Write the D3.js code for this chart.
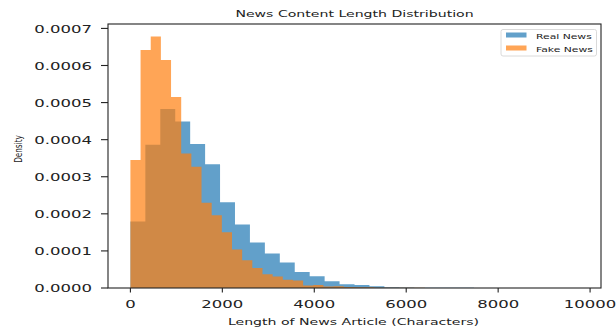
<!DOCTYPE html>
<html>
<head>
<meta charset="utf-8">
<script src="https://cdn.jsdelivr.net/npm/d3@7"></script>
<style>
  body { margin: 0; background: #fff; }
  svg { display: block; font-family: "DejaVu Sans", sans-serif; }
</style>
</head>
<body>
<div class="canvas"></div>
<script>
// histogram densities, 30 equal bins per series
const binCount = 30;
const realMax = 9750;   // right edge of the last real bin (characters)
const fakeMax = 6630;   // right edge of the last fake bin

const realDensity = [
    0.000179, 0.000386, 0.000483, 0.000449, 0.000388, 0.000334, 0.000231, 0.000171,
    0.000123, 0.000093, 0.000069, 0.000043, 0.000032, 0.000018, 0.000010, 0.000008,
    0.000005, 0.000002, 0.0000015, 0.000001, 0.0000008, 0.0000005, 0.0000004, 0.0000003,
    0.0000002, 0.0000002, 0.0000001, 0.0000001, 0.0000001, 0.0000001
];
const fakeDensity = [
    0.000345, 0.000642, 0.000678, 0.000615, 0.000515, 0.000363, 0.000327, 0.000230,
    0.000196, 0.000150, 0.000104, 0.000075, 0.000054, 0.000037, 0.000031, 0.000022,
    0.000020, 0.000007, 0.000008, 0.000004, 0.000005, 0.000003, 0.000002, 0.000002,
    0.000001, 0.000001, 0.0000008, 0.0000005, 0.0000005, 0.0000003
];

const seriesNames = ['Real News', 'Fake News'];
const xTicks = [0, 2000, 4000, 6000, 8000, 10000];
const yTicks = [0, 0.0001, 0.0002, 0.0003, 0.0004, 0.0005, 0.0006, 0.0007];

const W = 616, H = 331;
const m = { left: 108, right: 601, top: 24, bottom: 288 };
const sx = 1.5; // the picture is stretched sideways, so is the text

const blue = '#1f77b4', orange = '#ff7f0e', alpha = 0.7;

const svg = d3.select('.canvas')
    .append('svg')
    .attr('width', W)
    .attr('height', H);

// matplotlib style 5% margins
const pad = realMax * 0.05;
const x = d3.scaleLinear().domain([-pad, realMax + pad]).range([m.left, m.right]);
const yMax = d3.max(fakeDensity.concat(realDensity)) * 1.05;
const y = d3.scaleLinear().domain([0, yMax]).range([m.bottom, m.top]);

// turn bins into step points
const steps = (vals, max) => {
    const w = max / binCount;
    const pts = vals.map((v, i) => ({ x: i * w, v }));
    pts.push({ x: max, v: vals[vals.length - 1] });
    return pts;
};

const area = d3.area()
    .curve(d3.curveStepAfter)
    .x(d => x(d.x))
    .y0(y(0))
    .y1(d => y(d.v));

svg.append('path')
    .datum(steps(realDensity, realMax))
    .attr('d', area)
    .attr('fill', blue)
    .attr('fill-opacity', alpha);

svg.append('path')
    .datum(steps(fakeDensity, fakeMax))
    .attr('d', area)
    .attr('fill', orange)
    .attr('fill-opacity', alpha);

// frame
svg.append('rect')
    .attr('x', m.left).attr('y', m.top)
    .attr('width', m.right - m.left).attr('height', m.bottom - m.top)
    .attr('fill', 'none')
    .attr('stroke', '#222')
    .attr('stroke-width', 1.1);

// y ticks
const yg = svg.append('g');
yg.selectAll('line').data(yTicks).join('line')
    .attr('x1', m.left - 7).attr('x2', m.left)
    .attr('y1', d => y(d)).attr('y2', d => y(d))
    .attr('stroke', '#222').attr('stroke-width', 1.1);
yg.selectAll('text').data(yTicks).join('text')
    .attr('transform', d => `translate(${m.left - 16}, ${y(d) + 4.3}) scale(${sx},1)`)
    .attr('text-anchor', 'end')
    .attr('font-size', 11)
    .attr('fill', '#222')
    .text(d => d3.format('.4f')(d));

// x ticks
const xg = svg.append('g');
xg.selectAll('line').data(xTicks).join('line')
    .attr('x1', d => x(d)).attr('x2', d => x(d))
    .attr('y1', m.bottom).attr('y2', m.bottom + 4.5)
    .attr('stroke', '#222').attr('stroke-width', 1.1);
xg.selectAll('text').data(xTicks).join('text')
    .attr('transform', d => `translate(${x(d)}, 308.3) scale(${sx},1)`)
    .attr('text-anchor', 'middle')
    .attr('font-size', 11)
    .attr('fill', '#222')
    .text(d => d);

// labels
const cx = (m.left + m.right) / 2;
svg.append('text')
    .attr('transform', `translate(${cx}, 16.7) scale(${sx},1)`)
    .attr('text-anchor', 'middle')
    .attr('font-size', 9.4)
    .attr('fill', '#222')
    .text('News Content Length Distribution');

svg.append('text')
    .attr('transform', `translate(${cx - 1}, 324.5) scale(${sx},1)`)
    .attr('text-anchor', 'middle')
    .attr('font-size', 9.4)
    .attr('fill', '#222')
    .text('Length of News Article (Characters)');

svg.append('text')
    .attr('transform', `translate(21.5, 149) scale(${sx},1) rotate(-90)`)
    .attr('text-anchor', 'middle')
    .attr('font-size', 7.3)
    .attr('fill', '#222')
    .text('Density');

// legend
const lg = svg.append('g').attr('transform', 'translate(501, 29.5)');
lg.append('rect')
    .attr('width', 95.5).attr('height', 26.5)
    .attr('rx', 2)
    .attr('fill', '#fff').attr('fill-opacity', 0.8)
    .attr('stroke', '#d0d0d0').attr('stroke-width', 0.8);
const items = lg.selectAll('g.item').data(seriesNames).join('g')
    .attr('class', 'item')
    .attr('transform', (d, i) => `translate(0, ${i * 13})`);
items.append('rect')
    .attr('x', 5).attr('y', 3)
    .attr('width', 20.5).attr('height', 5)
    .attr('fill', (d, i) => i === 0 ? blue : orange)
    .attr('fill-opacity', alpha);
items.append('text')
    .attr('transform', `translate(35, 9.2) scale(${sx},1)`)
    .attr('font-size', 7.2)
    .attr('fill', '#222')
    .text(d => d);
</script>
</body>
</html>
